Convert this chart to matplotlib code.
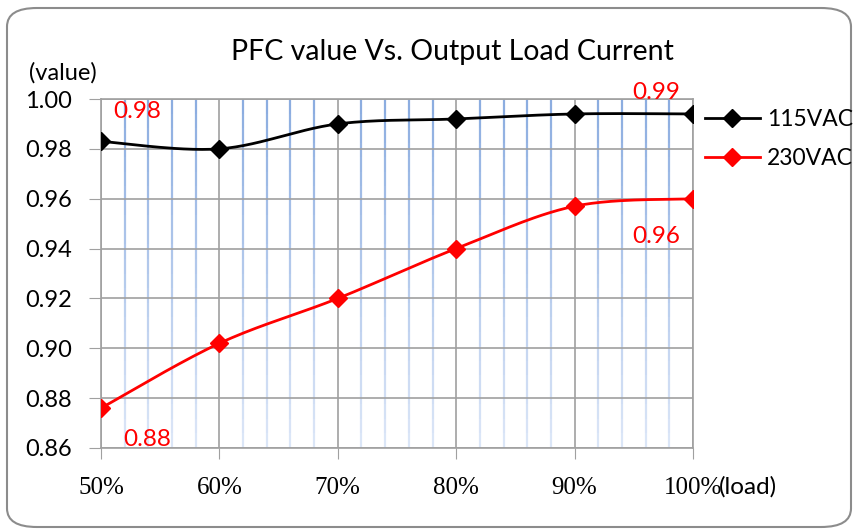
import numpy as np
import matplotlib.pyplot as plt
from matplotlib.patches import FancyBboxPatch
from matplotlib.collections import LineCollection

# data
load = [50, 60, 70, 80, 90, 100]
load_labels = ["50%", "60%", "70%", "80%", "90%", "100%"]
pfc_115 = [0.983, 0.980, 0.990, 0.992, 0.994, 0.994]
pfc_230 = [0.876, 0.902, 0.920, 0.940, 0.957, 0.960]
yticks = [0.86, 0.88, 0.90, 0.92, 0.94, 0.96, 0.98, 1.00]

SANS = ["Lato", "DejaVu Sans"]
SERIF = ["Liberation Serif", "DejaVu Serif"]


def smooth(xs, ys, n=30):
    # Catmull-Rom curve through the points (like Excel "smoothed line")
    xs = np.asarray(xs, float)
    ys = np.asarray(ys, float)
    sx = (xs - xs.min()) / (xs.max() - xs.min())
    sy = (ys - 0.86) / 0.14 * 0.6
    P = np.column_stack([sx, sy])
    P = np.vstack([P[0], P, P[-1]])
    out = []
    for i in range(1, len(P) - 2):
        p0, p1, p2, p3 = P[i - 1], P[i], P[i + 1], P[i + 2]
        t = np.linspace(0, 1, n)[:, None]
        c = 0.5 * ((2 * p1) + (-p0 + p2) * t + (2 * p0 - 5 * p1 + 4 * p2 - p3) * t ** 2
                   + (-p0 + 3 * p1 - 3 * p2 + p3) * t ** 3)
        out.append(c)
    c = np.vstack(out)
    return c[:, 0] * (xs.max() - xs.min()) + xs.min(), c[:, 1] / 0.6 * 0.14 + 0.86


fig = plt.figure(figsize=(8.54, 5.31), dpi=100)
fig.patch.set_facecolor("white")
frame = FancyBboxPatch((7 / 854, 4 / 531), 844 / 854, 519 / 531,
                       boxstyle="round,pad=0,rounding_size=0.035",
                       transform=fig.transFigure, facecolor="white",
                       edgecolor="#8c8c8c", linewidth=1.5, zorder=-5)
fig.patches.append(frame)

ax = fig.add_axes([101 / 854, 83 / 531, 592 / 854, 349 / 531])
ax.set_facecolor("none")
ax.set_xlim(50, 100)
ax.set_ylim(0.86, 1.00)

# light blue minor verticals, fading downward
segs, cols = [], []
top = np.array([0.55, 0.68, 0.88])
bot = np.array([0.86, 0.90, 0.97])
for mx in np.arange(52, 100, 2):
    if mx % 10 == 0:
        continue
    ys = np.linspace(1.00, 0.86, 25)
    for k in range(len(ys) - 1):
        f = k / (len(ys) - 2)
        segs.append([(mx, ys[k]), (mx, ys[k + 1])])
        cols.append(tuple(top * (1 - f) + bot * f))
ax.add_collection(LineCollection(segs, colors=cols, linewidths=1.6, zorder=1))

for xv in load:
    ax.axvline(xv, color="#a0a0a0", lw=1.2, zorder=2)
for yv in yticks:
    ax.axhline(yv, color="#a0a0a0", lw=1.2, zorder=2)
for s in ax.spines.values():
    s.set_color("#a0a0a0")
    s.set_linewidth(1.2)

ax.set_xticks(load)
ax.set_xticklabels(load_labels, fontfamily=SERIF, fontsize=18)
ax.set_yticks(yticks)
ax.set_yticklabels(["%.2f" % v for v in yticks], fontfamily=SANS, fontsize=17)
ax.tick_params(axis="x", length=8, color="#a0a0a0", pad=13)
ax.tick_params(axis="y", length=9, color="#a0a0a0", pad=12)

sx, sy = smooth(load, pfc_115)
ax.plot(sx, sy, color="black", lw=2, zorder=4)
ax.plot(load, pfc_115, ls="none", marker="D", ms=9, color="black", zorder=5)
sx, sy = smooth(load, pfc_230)
ax.plot(sx, sy, color="red", lw=2, zorder=4)
ax.plot(load, pfc_230, ls="none", marker="D", ms=9, color="red", zorder=5)

ax.plot([], [], color="black", lw=2, marker="D", ms=9, label="115VAC")
ax.plot([], [], color="red", lw=2, marker="D", ms=9, label="230VAC")
leg = fig.legend(loc="upper left", bbox_to_anchor=(698 / 854, 1 - 102 / 531),
                 frameon=False, handlelength=2.4, handletextpad=0.3,
                 labelspacing=0.8, borderaxespad=0, borderpad=0.3,
                 prop={"family": SANS, "size": 16.5})

ax.text(51.0, 0.9948, "0.98", color="red", fontsize=17.5, family=SANS, va="center")
ax.text(94.9, 1.0028, "0.99", color="red", fontsize=17.5, family=SANS, va="center")
ax.text(94.9, 0.9447, "0.96", color="red", fontsize=17.5, family=SANS, va="center")
ax.text(51.9, 0.8633, "0.88", color="red", fontsize=17.5, family=SANS, va="center")

fig.text(452 / 854, 1 - 52 / 531, "PFC value Vs. Output Load Current",
         ha="center", va="center", fontsize=20.5, family=SANS)
fig.text(63 / 854, 1 - 73 / 531, "(value)", ha="center", va="center",
         fontsize=17, family=SANS)
fig.text(748 / 854, 1 - 487 / 531, "(load)", ha="center", va="center",
         fontsize=17.5, family=SANS)

plt.savefig("out.png", dpi=100)
